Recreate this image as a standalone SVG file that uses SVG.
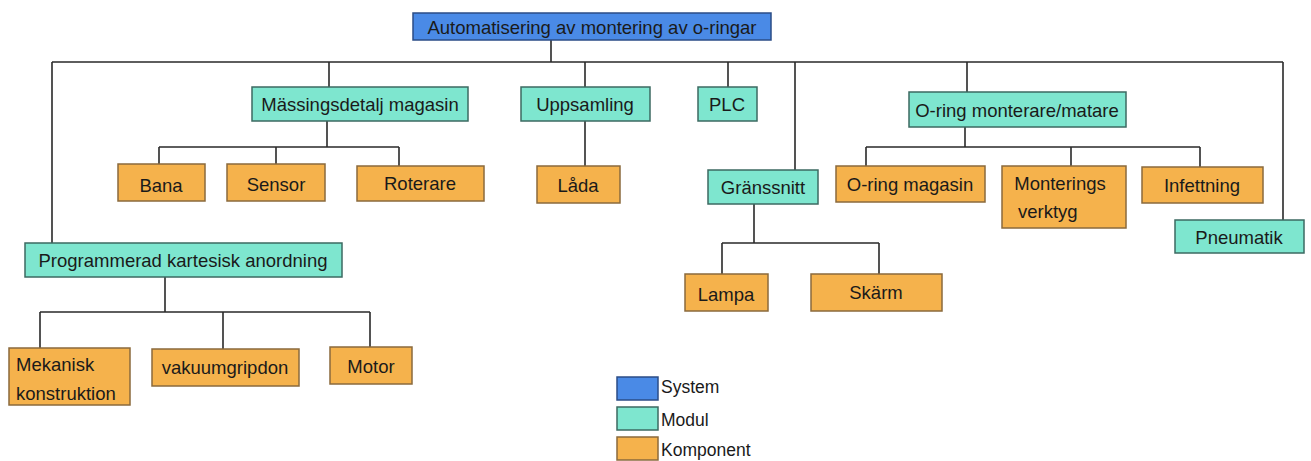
<svg xmlns="http://www.w3.org/2000/svg" width="1311" height="461" viewBox="0 0 1311 461">
<style>
text{font-family:"Liberation Sans",Arial,sans-serif;font-size:18.5px;fill:#1a1a1a;text-anchor:middle;dominant-baseline:central}
.sys{fill:#4a8ae6;stroke:#2b4c86;stroke-width:1.5}
.mod{fill:#7ee6cf;stroke:#3c6a62;stroke-width:1.5}
.kom{fill:#f5b24c;stroke:#8a6a3c;stroke-width:1.5}
.lg{font-size:17.5px;text-anchor:start}
.l{text-anchor:start}
#connectors path{fill:none;stroke:#2a2a2a;stroke-width:1.6}
</style>
<rect width="1311" height="461" fill="#ffffff"/>
<g id="connectors">
<path d="M551 40V62M52 62H1283M52 62V243M1283 62V220"/>
<path d="M329 62V87M585 62V87M728 62V87M795 62V170M967 62V92"/>
<path d="M327 121V147M159 147H399M159 147V164M276 147V164M399 147V166"/>
<path d="M585 121V166"/>
<path d="M965 127V147M866 147H1200M866 147V166M1071 147V166M1200 147V167"/>
<path d="M754 204V243M722 243H879M722 243V274M879 243V274"/>
<path d="M165 277V312M40 312H370M40 312V348M223 312V349M370 312V347"/>
</g>
<g id="root"><rect class="sys" x="413" y="13" width="358" height="27"/><text x="592" y="27">Automatisering av montering av o-ringar</text></g>
<g id="massing"><rect class="mod" x="252" y="87" width="216" height="34"/><text x="360" y="104">Mässingsdetalj magasin</text></g>
<g id="uppsamling"><rect class="mod" x="521" y="87" width="129" height="34"/><text x="585" y="104">Uppsamling</text></g>
<g id="plc"><rect class="mod" x="698" y="87" width="59" height="34"/><text x="727" y="104">PLC</text></g>
<g id="granssnitt"><rect class="mod" x="708" y="170" width="110" height="34"/><text x="763" y="187">Gränssnitt</text></g>
<g id="oring"><rect class="mod" x="909" y="92" width="217" height="35"/><text x="1017" y="110">O-ring monterare/matare</text></g>
<g id="pneumatik"><rect class="mod" x="1175" y="220" width="129" height="33"/><text x="1239" y="237">Pneumatik</text></g>
<g id="programmerad"><rect class="mod" x="25" y="243" width="317" height="34"/><text x="183" y="260">Programmerad kartesisk anordning</text></g>
<g id="bana"><rect class="kom" x="118" y="164" width="87" height="37"/><text x="161" y="185">Bana</text></g>
<g id="sensor"><rect class="kom" x="227" y="164" width="98" height="37"/><text x="276" y="184">Sensor</text></g>
<g id="roterare"><rect class="kom" x="357" y="166" width="127" height="35"/><text x="420" y="183">Roterare</text></g>
<g id="lada"><rect class="kom" x="537" y="166" width="83" height="37"/><text x="578" y="185">Låda</text></g>
<g id="oringmagasin"><rect class="kom" x="836" y="166" width="149" height="36"/><text x="910" y="184">O-ring magasin</text></g>
<g id="monteringsverktyg"><rect class="kom" x="1002" y="166" width="124" height="62"/><text x="1060" y="183">Monterings</text><text class="l" x="1018" y="211">verktyg</text></g>
<g id="infettning"><rect class="kom" x="1142" y="167" width="121" height="36"/><text x="1202" y="185">Infettning</text></g>
<g id="lampa"><rect class="kom" x="685" y="274" width="83" height="37"/><text x="726" y="294">Lampa</text></g>
<g id="skarm"><rect class="kom" x="811" y="274" width="131" height="37"/><text x="876" y="292">Skärm</text></g>
<g id="mekanisk"><rect class="kom" x="9" y="348" width="121" height="57"/><text class="l" x="16" y="364">Mekanisk</text><text class="l" x="16" y="393">konstruktion</text></g>
<g id="vakuum"><rect class="kom" x="152" y="349" width="147" height="37"/><text x="225" y="367">vakuumgripdon</text></g>
<g id="motor"><rect class="kom" x="330" y="347" width="82" height="37"/><text x="371" y="366">Motor</text></g>
<g id="legend">
<rect class="sys" x="617" y="377" width="41" height="23"/><text class="lg" x="661" y="387">System</text>
<rect class="mod" x="617" y="407" width="41" height="23"/><text class="lg" x="661" y="420">Modul</text>
<rect class="kom" x="617" y="437" width="41" height="23"/><text class="lg" x="661" y="450">Komponent</text>
</g>
</svg>
